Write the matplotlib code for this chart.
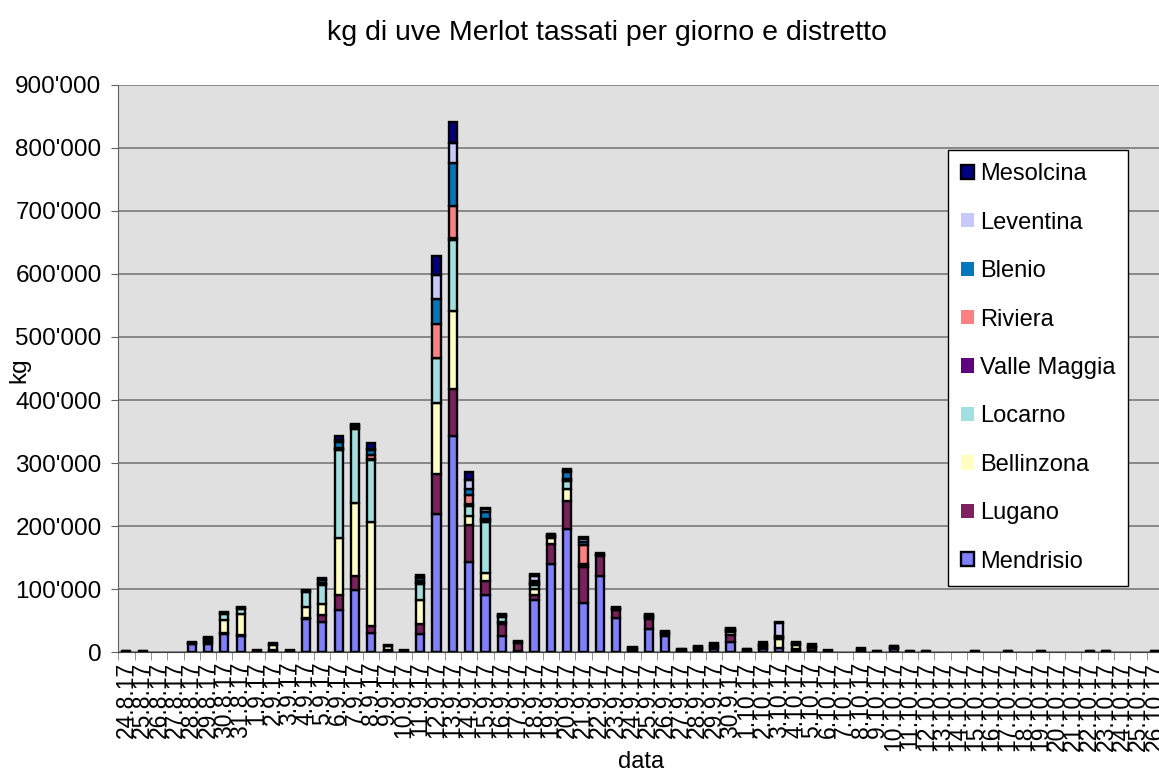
import numpy as np
import matplotlib as mpl
mpl.use('Agg')
import matplotlib.pyplot as plt
from matplotlib.ticker import FuncFormatter, FixedLocator

mpl.rcParams['font.family'] = ['Liberation Sans', 'DejaVu Sans']

# date labels (24.8.17 .. 26.10.17)
dates = ['24.8.17', '25.8.17', '26.8.17', '27.8.17', '28.8.17', '29.8.17', '30.8.17', '31.8.17',
         '1.9.17', '2.9.17', '3.9.17', '4.9.17', '5.9.17', '6.9.17', '7.9.17', '8.9.17',
         '9.9.17', '10.9.17', '11.9.17', '12.9.17', '13.9.17', '14.9.17', '15.9.17', '16.9.17',
         '17.9.17', '18.9.17', '19.9.17', '20.9.17', '21.9.17', '22.9.17', '23.9.17', '24.9.17',
         '25.9.17', '26.9.17', '27.9.17', '28.9.17', '29.9.17', '30.9.17',
         '1.10.17', '2.10.17', '3.10.17', '4.10.17', '5.10.17', '6.10.17', '7.10.17', '8.10.17',
         '9.10.17', '10.10.17', '11.10.17', '12.10.17', '13.10.17', '14.10.17', '15.10.17',
         '16.10.17', '17.10.17', '18.10.17', '19.10.17', '20.10.17', '21.10.17', '22.10.17',
         '23.10.17', '24.10.17', '25.10.17', '26.10.17']

# values in thousands of kg
mendrisio = [1, 1, 0, 0, 12, 12, 28, 25, 1, 1, 1, 53, 47, 66, 99, 30,
             1, 1, 28, 219, 343, 143, 91, 25, 2, 82, 140, 196, 78, 120, 54, 2,
             37, 26, 1, 2, 5, 16, 1, 4, 6, 2, 2, 1, 0, 1,
             1, 5, 1, 1, 0, 0, 1, 0, 1, 0, 1, 0, 0, 1, 1, 0, 0, 1]
lugano = [0, 0, 0, 0, 1, 4, 2, 2, 1, 2, 1, 1, 11, 24, 22, 11,
          2, 1, 16, 64, 74, 58, 21, 20, 12, 9, 32, 44, 57, 33, 12, 2,
          15, 2, 1, 2, 3, 11, 1, 3, 1, 2, 4, 1, 0, 3,
          0, 2, 0, 0, 0, 0, 0, 0, 0, 0, 0, 0, 0, 0, 0, 0, 0, 0]
bellinzona = [0, 0, 0, 0, 1, 2, 21, 33, 0, 8, 0, 18, 18, 91, 116, 165,
              6, 0, 38, 113, 124, 15, 14, 3, 1, 9, 9, 18, 2, 1, 1, 1,
              2, 1, 1, 2, 2, 5, 1, 2, 14, 7, 2, 0, 0, 1,
              0, 1, 0, 0, 0, 0, 0, 0, 0, 0, 0, 0, 0, 0, 0, 0, 0, 0]
locarno = [0, 0, 0, 0, 1, 3, 10, 9, 0, 1, 0, 24, 31, 139, 117, 99,
           1, 0, 26, 70, 113, 16, 81, 8, 0, 6, 2, 14, 2, 1, 1, 1,
           2, 1, 1, 2, 2, 2, 1, 2, 2, 2, 2, 0, 0, 0,
           0, 1, 0, 0, 0, 0, 0, 0, 0, 0, 0, 0, 0, 0, 0, 0, 0, 0]
valle_maggia = [0, 0, 0, 0, 0, 1, 0, 0, 0, 0, 0, 0, 1, 2, 1, 2,
                0, 0, 2, 1, 3, 3, 2, 1, 1, 2, 1, 1, 1, 0, 1, 0,
                1, 1, 0, 0, 0, 1, 0, 1, 1, 0, 0, 0, 0, 0,
                0, 0, 0, 0, 0, 0, 0, 0, 0, 0, 0, 0, 0, 0, 0, 0, 0, 0]
riviera = [0, 0, 0, 0, 0, 0, 0, 0, 0, 0, 0, 0, 1, 2, 1, 5,
           0, 0, 2, 53, 51, 14, 2, 1, 0, 2, 1, 1, 30, 0, 0, 0,
           1, 0, 0, 0, 0, 1, 0, 0, 1, 0, 0, 0, 0, 0,
           0, 0, 0, 0, 0, 0, 0, 0, 0, 0, 0, 0, 0, 0, 0, 0, 0, 0]
blenio = [0, 0, 0, 0, 0, 0, 1, 1, 0, 0, 0, 1, 6, 10, 3, 8,
          0, 0, 5, 40, 68, 10, 12, 1, 0, 2, 1, 12, 4, 1, 1, 0,
          0, 0, 0, 0, 0, 1, 0, 0, 1, 0, 0, 0, 0, 0,
          0, 0, 0, 0, 0, 0, 0, 0, 0, 0, 0, 0, 0, 0, 0, 0, 0, 0]
leventina = [0, 0, 0, 0, 0, 0, 0, 0, 0, 0, 0, 0, 1, 3, 1, 3,
             0, 0, 2, 38, 32, 14, 4, 0, 0, 8, 1, 1, 5, 0, 0, 0,
             1, 0, 0, 0, 1, 0, 0, 1, 20, 1, 0, 0, 0, 0,
             0, 0, 0, 0, 0, 0, 0, 0, 0, 0, 0, 0, 0, 0, 0, 0, 0, 0]
mesolcina = [1, 1, 0, 0, 1, 2, 1, 1, 1, 2, 1, 2, 2, 6, 2, 9,
             1, 1, 4, 30, 34, 13, 2, 1, 1, 4, 1, 4, 3, 1, 2, 2,
             1, 2, 1, 2, 2, 1, 1, 3, 2, 2, 2, 1, 0, 1,
             1, 1, 1, 1, 0, 0, 1, 0, 1, 0, 1, 0, 0, 1, 1, 0, 0, 1]

series = [('Mendrisio', mendrisio, '#8080FF'),
          ('Lugano', lugano, '#7F1F5F'),
          ('Bellinzona', bellinzona, '#FFFFC0'),
          ('Locarno', locarno, '#A0E0E0'),
          ('Valle Maggia', valle_maggia, '#600080'),
          ('Riviera', riviera, '#FF8080'),
          ('Blenio', blenio, '#0078C0'),
          ('Leventina', leventina, '#C8C8FF'),
          ('Mesolcina', mesolcina, '#000080')]

dpi = 100
fig = plt.figure(figsize=(1159 / dpi, 774 / dpi), dpi=dpi)
ax = fig.add_axes([0.102, 0.1576, 0.9015, 0.7326])
ax.set_facecolor('#E0E0E0')

x = np.arange(len(dates))
bottom = np.zeros(len(dates))
for name, vals, col in series:
    v = np.array(vals) * 1000.0
    lw = np.where(v > 0, 1.7, 0.0)
    ax.bar(x, v, 0.5, bottom=bottom, color=col, edgecolor='black',
           linewidth=lw, label=name, zorder=3)
    bottom += v

ax.set_xlim(-0.5, len(dates) - 0.5)
ax.set_ylim(0, 900000)
ax.yaxis.set_major_locator(FixedLocator(np.arange(0, 900001, 100000)))
ax.yaxis.set_major_formatter(FuncFormatter(lambda v, p: f"{int(v):,}".replace(',', "'")))
ax.grid(axis='y', color='#707070', linewidth=1.1, zorder=1)

ax.set_xticks(x)
ax.set_xticklabels(dates, rotation=90, fontsize=16.5)
ax.set_xticks(np.arange(-0.5, len(dates), 1), minor=True)
ax.tick_params(axis='x', which='major', length=0, pad=7)
ax.tick_params(axis='x', which='minor', length=6, color='#808080')
ax.tick_params(axis='y', length=5, labelsize=17.5, color='#606060', pad=7)

for s in ['top', 'right']:
    ax.spines[s].set_visible(False)
ax.spines['left'].set_color('#606060')
ax.spines['bottom'].set_color('#404040')

ax.set_xlabel('data', fontsize=17)
ax.xaxis.set_label_coords(0.5, -0.174)
ax.set_ylabel('kg', fontsize=17.5)
ax.yaxis.set_label_coords(-0.084, 0.497)
fig.text(0.524, 0.958, 'kg di uve Merlot tassati per giorno e distretto',
         fontsize=20.5, ha='center', va='center')

h, l = ax.get_legend_handles_labels()
leg = ax.legend(h[::-1], l[::-1], loc='upper left', bbox_to_anchor=(0.794, 0.885),
                fontsize=17, frameon=True, fancybox=False, framealpha=1,
                edgecolor='black', handlelength=0.55, handleheight=0.55,
                handletextpad=0.25, labelspacing=1.12, borderpad=0.55, borderaxespad=0)
leg.get_frame().set_linewidth(1)

fig.savefig('out.png', dpi=dpi)
